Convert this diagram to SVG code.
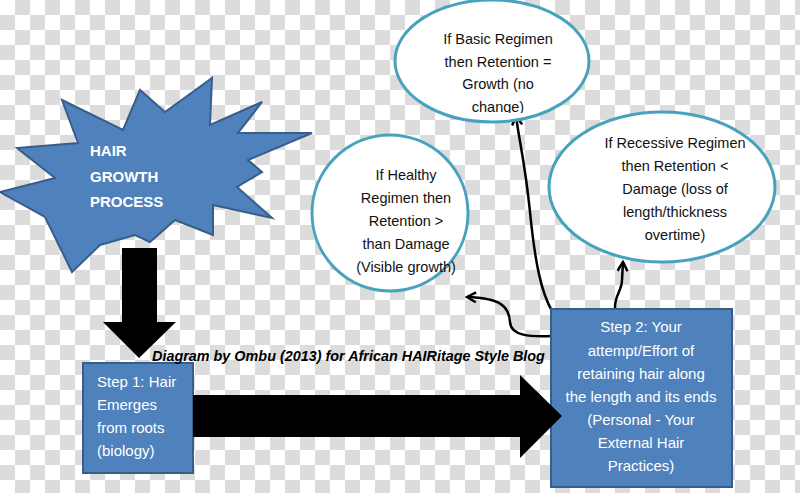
<svg xmlns="http://www.w3.org/2000/svg" width="800" height="493" viewBox="0 0 800 493">
<style>
.blue{fill:#4f81bd;stroke:#385d8a;stroke-width:2}
.oval{fill:#ffffff;stroke:#47a3bd;stroke-width:3}
.big{fill:#000000}
.wt{font-family:"Liberation Sans",Arial,sans-serif;font-size:15px;fill:#ffffff}
.bt{font-family:"Liberation Sans",Arial,sans-serif;font-size:14.5px;fill:#111111;text-anchor:middle}
.hb{font-family:"Liberation Sans",Arial,sans-serif;font-size:15px;font-weight:bold;fill:#ffffff}
.cap{font-family:"Liberation Sans",Arial,sans-serif;font-size:14.4px;font-weight:bold;font-style:italic;fill:#000000}
.con{fill:none;stroke:#000000;stroke-width:2.5}
</style>
<defs>
<pattern id="checker" x="0" y="0" width="30" height="30" patternUnits="userSpaceOnUse">
<rect x="0" y="0" width="30" height="30" fill="#ffffff"/>
<rect x="15" y="0" width="15" height="15" fill="#dcdcdc"/>
<rect x="0" y="15" width="15" height="15" fill="#dcdcdc"/>
</pattern>
<marker id="arr" viewBox="0 0 12 12" refX="10" refY="6" markerWidth="12" markerHeight="12" markerUnits="userSpaceOnUse" orient="auto">
<path d="M1,1 L10,6 L1,11" fill="none" stroke="#000000" stroke-width="2.5"/>
</marker>
<clipPath id="clipTop"><rect x="380" y="0" width="240" height="113"/></clipPath>
<clipPath id="clipRight"><rect x="540" y="100" width="260" height="241"/></clipPath>
</defs>
<rect x="0" y="0" width="800" height="493" fill="url(#checker)"/>

<g id="connectors">
<path class="con" d="M552,311 C541,292 535,262 530,212 S519,140 516,116" marker-end="url(#arr)"/>
<path class="con" d="M552,336 C530,337 511,336 510,322 C509,306 500,298 467,297" marker-end="url(#arr)"/>
<path class="con" d="M615,309 C614,296 622,291 622,280 L623,262" marker-end="url(#arr)"/>
</g>

<g id="hair-growth-process">
<polygon class="blue" points="62,100 123,130 140,90 165,112 212,78 210,125 262,102 238,133 312,133 248,160 262,172 237,187 272,218 213,205 213,235 175,220 150,242 135,235 100,245 72,272 45,217 0,192 55,178 17,148 78,143"/>
<text class="hb" x="90" y="156">HAIR</text>
<text class="hb" x="90" y="182">GROWTH</text>
<text class="hb" x="90" y="207">PROCESS</text>
</g>

<g id="down-arrow">
<polygon class="big" points="122,248 157,248 157,322 176,322 139,358 103,322 122,322"/>
</g>

<g id="step1">
<rect class="blue" x="83" y="363" width="110" height="110"/>
<text class="wt" x="97" y="387">Step 1: Hair</text>
<text class="wt" x="97" y="410">Emerges</text>
<text class="wt" x="97" y="433">from roots</text>
<text class="wt" x="97" y="456">(biology)</text>
</g>

<g id="step2">
<rect class="blue" x="551" y="309" width="181" height="178"/>
<text class="wt" text-anchor="middle" x="641" y="332">Step 2: Your</text>
<text class="wt" text-anchor="middle" x="641" y="355.5">attempt/Effort of</text>
<text class="wt" text-anchor="middle" x="641" y="379">retaining hair along</text>
<text class="wt" text-anchor="middle" x="641" y="402">the length and its ends</text>
<text class="wt" text-anchor="middle" x="641" y="424.5">(Personal - Your</text>
<text class="wt" text-anchor="middle" x="641" y="448">External Hair</text>
<text class="wt" text-anchor="middle" x="641" y="471">Practices)</text>
</g>

<g id="right-arrow">
<polygon class="big" points="193,395 520,395 520,375 562,416 520,458 520,437 193,437"/>
</g>

<g id="caption">
<text class="cap" x="152" y="361">Diagram by Ombu (2013) for African HAIRitage Style Blog</text>
</g>

<g id="basic-regimen">
<ellipse class="oval" cx="492" cy="61" rx="97" ry="61"/>
<g clip-path="url(#clipTop)">
<text class="bt" x="498" y="44">If Basic Regimen</text>
<text class="bt" x="498" y="66.5">then Retention =</text>
<text class="bt" x="498" y="89">Growth (no</text>
<text class="bt" x="498" y="112">change)</text>
</g>
</g>

<g id="healthy-regimen">
<ellipse class="oval" cx="390" cy="213" rx="78" ry="78"/>
<text class="bt" x="406" y="180">If Healthy</text>
<text class="bt" x="406" y="203">Regimen then</text>
<text class="bt" x="406" y="226">Retention &gt;</text>
<text class="bt" x="406" y="248.5">than Damage</text>
<text class="bt" x="406" y="272">(Visible growth)</text>
</g>

<g id="recessive-regimen">
<ellipse class="oval" cx="662" cy="187" rx="113" ry="75"/>
<g clip-path="url(#clipRight)">
<text class="bt" x="675" y="147.5">If Recessive Regimen</text>
<text class="bt" x="675" y="171">then Retention &lt;</text>
<text class="bt" x="675" y="194">Damage (loss of</text>
<text class="bt" x="675" y="217">length/thickness</text>
<text class="bt" x="675" y="240">overtime)</text>
</g>
</g>
</svg>
